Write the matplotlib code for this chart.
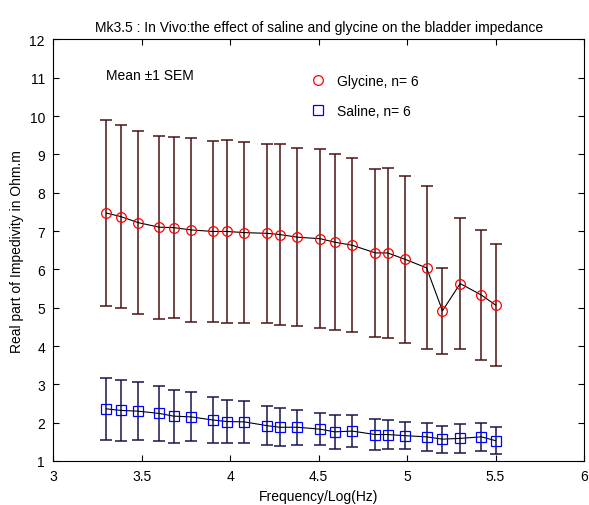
import matplotlib.pyplot as plt
from matplotlib.lines import Line2D

plt.rcParams["font.family"] = ["Liberation Sans", "DejaVu Sans"]
plt.rcParams["font.size"] = 10

# log10 frequency (Hz)
freq = [3.30, 3.38, 3.48, 3.60, 3.68, 3.78, 3.90, 3.98, 4.08, 4.21, 4.28, 4.38,
        4.51, 4.59, 4.69, 4.82, 4.89, 4.99, 5.11, 5.20, 5.30, 5.42, 5.50]

glycine_mean = [7.47, 7.38, 7.22, 7.10, 7.09, 7.03, 6.99, 6.99, 6.96, 6.94, 6.91, 6.84,
                6.80, 6.71, 6.63, 6.43, 6.43, 6.26, 6.04, 4.92, 5.63, 5.33, 5.07]
glycine_sem = [2.43, 2.40, 2.39, 2.39, 2.37, 2.39, 2.36, 2.38, 2.37, 2.34, 2.35, 2.33,
               2.33, 2.29, 2.27, 2.19, 2.22, 2.19, 2.13, 1.12, 1.71, 1.70, 1.60]

saline_mean = [2.36, 2.32, 2.30, 2.24, 2.17, 2.15, 2.07, 2.03, 2.02, 1.92, 1.88, 1.88,
               1.83, 1.76, 1.78, 1.69, 1.69, 1.66, 1.63, 1.57, 1.59, 1.63, 1.53]
saline_sem = [0.81, 0.79, 0.75, 0.72, 0.69, 0.64, 0.60, 0.56, 0.55, 0.51, 0.49, 0.46,
              0.42, 0.45, 0.41, 0.40, 0.38, 0.35, 0.36, 0.35, 0.38, 0.36, 0.35]

fig = plt.figure(figsize=(5.89, 5.06), dpi=100)
ax = fig.add_axes([0.0905, 0.087, 0.901, 0.833])

ax.errorbar(freq, glycine_mean, yerr=glycine_sem, fmt="none", ecolor="#4a1414",
            elinewidth=1.1, capsize=4, capthick=1.1)
ax.errorbar(freq, saline_mean, yerr=saline_sem, fmt="none", ecolor="#16164a",
            elinewidth=1.1, capsize=4, capthick=1.1)

ax.plot(freq, glycine_mean, c="black", lw=0.8, zorder=3)
ax.plot(freq, glycine_mean, ls="none", marker="o", ms=7, mfc="none",
        mec="red", mew=0.9, zorder=4)
ax.plot(freq, saline_mean, c="black", lw=0.8, zorder=3)
ax.plot(freq, saline_mean, ls="none", marker="s", ms=7, mfc="none",
        mec="blue", mew=0.9, zorder=4)

handles = [
    Line2D([], [], ls="none", marker="o", ms=7, mfc="none", mec="red", mew=0.9),
    Line2D([], [], ls="none", marker="s", ms=7, mfc="none", mec="blue", mew=0.9),
]
ax.legend(handles, ["Glycine, n= 6", "Saline, n= 6"], frameon=False,
          loc="upper left", bbox_to_anchor=(0.462, 0.947), handletextpad=0.85,
          labelspacing=1.15, handlelength=1.0, fontsize=10)

ax.text(3.297, 11.08, "Mean \u00b11 SEM", va="center", ha="left")

ax.set_xlim(3, 6)
ax.set_ylim(1, 12)
ax.set_xticks([3, 3.5, 4, 4.5, 5, 5.5, 6])
ax.set_xticklabels(["3", "3.5", "4", "4.5", "5", "5.5", "6"])
ax.set_yticks(range(1, 13))
ax.tick_params(direction="in", top=True, right=True, length=4, pad=6)

ax.set_title("Mk3.5 : In Vivo:the effect of saline and glycine on the bladder impedance",
             fontsize=10, pad=6)
ax.set_xlabel("Frequency/Log(Hz)")
ax.set_ylabel("Real part of Impedivity in Ohm.m")

fig.savefig("out.png", dpi=100)
